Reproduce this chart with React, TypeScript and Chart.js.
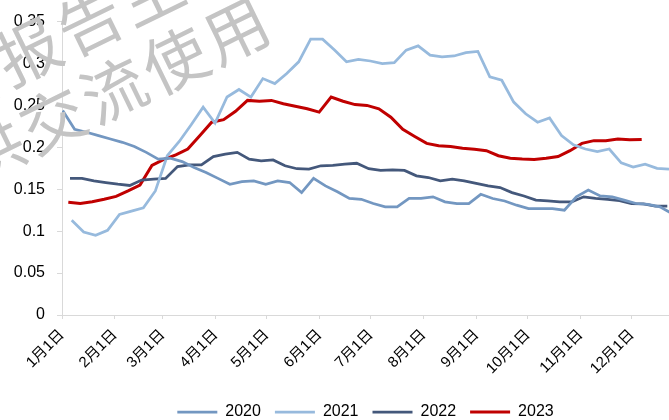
import React, { useEffect, useRef } from "react";
import { Chart, registerables } from "chart.js";

Chart.register(...registerables);

// ---- data ----
const monthLabels = ["1月1日", "2月1日", "3月1日", "4月1日", "5月1日", "6月1日", "7月1日", "8月1日", "9月1日", "10月1日", "11月1日", "12月1日"];
const monthStartDays = [0, 31, 59, 90, 120, 151, 181, 212, 243, 273, 304, 334];
const yTicks = [0, 0.05, 0.1, 0.15, 0.2, 0.25, 0.3, 0.35];
const seriesNames = ["2020", "2021", "2022", "2023"];
// day of year (Jan 1 = 0) of each series' first weekly observation
const firstWeekDay = [0.4, 5.7, 4.7, 3.7];
const daysPerWeek = 7;

const values2020 = [0.244, 0.2215, 0.218, 0.214, 0.21, 0.206, 0.201, 0.194, 0.186, 0.187, 0.183, 0.176, 0.17, 0.163, 0.156, 0.159, 0.16, 0.156, 0.16, 0.158, 0.146, 0.163, 0.154, 0.147, 0.139, 0.138, 0.133, 0.129, 0.129, 0.139, 0.139, 0.141, 0.135, 0.133, 0.133, 0.144, 0.139, 0.136, 0.131, 0.127, 0.127, 0.127, 0.125, 0.141, 0.149, 0.142, 0.141, 0.137, 0.133, 0.132, 0.129, 0.121];
const values2021 = [0.113, 0.099, 0.095, 0.101, 0.12, 0.124, 0.128, 0.148, 0.19, 0.207, 0.227, 0.248, 0.229, 0.26, 0.269, 0.26, 0.282, 0.276, 0.288, 0.302, 0.329, 0.329, 0.316, 0.302, 0.305, 0.303, 0.3, 0.301, 0.316, 0.321, 0.31, 0.308, 0.309, 0.313, 0.3145, 0.284, 0.28, 0.254, 0.24, 0.23, 0.235, 0.214, 0.203, 0.198, 0.195, 0.198, 0.1815, 0.1765, 0.18, 0.175, 0.174];
const values2022 = [0.163, 0.163, 0.16, 0.158, 0.156, 0.1545, 0.161, 0.162, 0.163, 0.177, 0.179, 0.179, 0.189, 0.192, 0.194, 0.186, 0.184, 0.185, 0.178, 0.1745, 0.174, 0.178, 0.1785, 0.18, 0.181, 0.1745, 0.1725, 0.173, 0.1725, 0.166, 0.164, 0.16, 0.162, 0.16, 0.157, 0.154, 0.152, 0.146, 0.142, 0.137, 0.136, 0.135, 0.135, 0.141, 0.139, 0.138, 0.1365, 0.133, 0.1325, 0.13, 0.13];
const values2023 = [0.1345, 0.133, 0.135, 0.138, 0.1415, 0.148, 0.155, 0.1785, 0.1855, 0.191, 0.198, 0.2137, 0.23, 0.233, 0.243, 0.256, 0.255, 0.256, 0.252, 0.249, 0.246, 0.242, 0.26, 0.255, 0.251, 0.25, 0.246, 0.236, 0.2215, 0.213, 0.2047, 0.202, 0.201, 0.199, 0.1976, 0.196, 0.19, 0.187, 0.186, 0.1855, 0.187, 0.189, 0.196, 0.2047, 0.208, 0.208, 0.21, 0.209, 0.2094];
const xMaxDay = 355.7;

const watermarkLine1 = ["研", "报", "告", "主"];
const watermarkLine2 = ["仅", "供", "交", "流", "使", "用"];

const FONT = '"Liberation Sans", Arial, "Noto Sans CJK SC", sans-serif';

export default function App() {
  const ref = useRef<HTMLCanvasElement>(null);

  useEffect(() => {
    const canvas = ref.current;
    if (!canvas) return;
    const allValues = [values2020, values2021, values2022, values2023];
    const colors = ["#7397c1", "#97badd", "#44587b", "#c00000"];
    const widths = [2.75, 2.75, 2.75, 3];
    const toPoints = (vals: number[], start: number) =>
      vals.map((v, i) => ({ x: start + daysPerWeek * i, y: v }));

    const watermark = {
      id: "watermark",
      afterDraw(chart: any) {
        const ctx = chart.ctx;
        ctx.save();
        ctx.fillStyle = "#c4c4c4";
        ctx.font = '64px "Noto Sans CJK SC", sans-serif';
        ctx.textAlign = "center";
        ctx.textBaseline = "middle";
        ctx.translate(175, 60);
        ctx.rotate((-26 * Math.PI) / 180);
        const pitch = 68;
        watermarkLine2.forEach((ch, i) => ctx.fillText(ch, (i - 4) * pitch, 0));
        watermarkLine1.forEach((ch, i) => ctx.fillText(ch, (i - 2) * pitch - 60, -72));
        ctx.restore();
      },
    };

    const chart = new Chart(canvas, {
      type: "line",
      data: {
        datasets: seriesNames.map((name, k) => ({
          label: name,
          data: toPoints(allValues[k], firstWeekDay[k]),
          borderColor: colors[k],
          backgroundColor: colors[k],
          borderWidth: widths[k],
          pointRadius: 0,
          tension: 0,
          fill: false,
        })),
      },
      options: {
        responsive: false,
        animation: false,
        layout: { padding: { top: 17.5, left: 0, right: 0, bottom: 0 } },
        plugins: {
          legend: {
            position: "bottom",
            fullSize: false,
            labels: {
              usePointStyle: true,
              pointStyle: "line",
              pointStyleWidth: 40,
              padding: 14,
              color: "#000",
              font: { size: 16, family: FONT },
            },
          },
          tooltip: { enabled: false },
        },
        scales: {
          x: {
            type: "linear",
            min: 0,
            max: xMaxDay,
            afterBuildTicks: (scale: any) => {
              scale.ticks = monthStartDays.map((v) => ({ value: v }));
            },
            afterFit: (scale: any) => {
              scale.height = 75;
            },
            ticks: {
              autoSkip: false,
              minRotation: 45,
              maxRotation: 45,
              padding: 7,
              color: "#000",
              font: { size: 15, family: FONT },
              callback: (_v: any, i: number) => monthLabels[i],
            },
            grid: { drawOnChartArea: false, drawTicks: true, tickLength: 4, color: "#d9d9d9" },
            border: { display: true, color: "#d9d9d9", width: 1 },
          },
          y: {
            min: 0,
            max: 0.35,
            afterBuildTicks: (scale: any) => {
              scale.ticks = yTicks.map((v) => ({ value: v }));
            },
            afterFit: (scale: any) => {
              scale.width = 62;
            },
            ticks: {
              padding: 12,
              color: "#000",
              font: { size: 16, family: FONT },
              callback: (v: any) => String(Number(Number(v).toFixed(2))),
            },
            grid: { drawOnChartArea: false, drawTicks: true, tickLength: 5, color: "#d9d9d9" },
            border: { display: true, color: "#d9d9d9", width: 1 },
          },
        },
      },
      plugins: [watermark],
    } as any);

    return () => chart.destroy();
  }, []);

  return (
    <div style={{ position: "absolute", left: 0, top: 0, width: 669, height: 420, overflow: "hidden", background: "#fff" }}>
      <canvas ref={ref} width={669} height={430} style={{ display: "block" }} />
    </div>
  );
}
